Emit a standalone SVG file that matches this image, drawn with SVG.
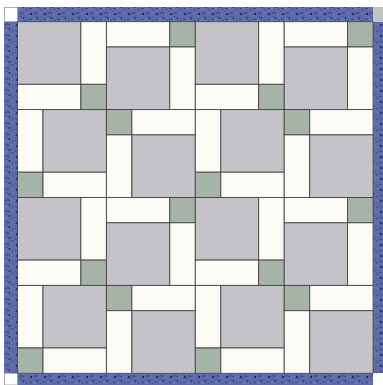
<svg xmlns="http://www.w3.org/2000/svg" width="383" height="385" viewBox="0 0 383 385">
<style>
.g{fill:#c5c2c8;stroke:#454545;stroke-width:0.9}
.c{fill:#fdfbf6;stroke:#454545;stroke-width:0.9}
.s{fill:#a5b4a7;stroke:#454545;stroke-width:0.9}
.b{fill:url(#fabric)}
</style>
<defs>
<pattern id="fabric" width="14" height="11" patternUnits="userSpaceOnUse">
<rect width="14" height="11" fill="#5d6ca8"/>
<circle cx="3" cy="3" r="1.2" fill="#232c63"/>
<circle cx="9.5" cy="7" r="1" fill="#29336f"/>
<path d="M5.5 2.5 q2 -1.6 4 0" stroke="#262f69" stroke-width="0.8" fill="none"/>
<path d="M1 8 q1.5 1.5 3 0" stroke="#262f69" stroke-width="0.7" fill="none"/>
<circle cx="12" cy="2" r="0.6" fill="#8e9ccc"/>
<circle cx="6" cy="9" r="0.7" fill="#8996c6"/>
<circle cx="12.5" cy="9.5" r="0.6" fill="#232c63"/>
<circle cx="7" cy="5.5" r="0.5" fill="#303a78"/>
</pattern>
</defs>
<rect width="383" height="385" fill="#ffffff"/>
<g id="border">
<rect class="b" x="17.5" y="7" width="355.6" height="14.7"/>
<rect class="b" x="4" y="21.7" width="13.5" height="351.6"/>
<rect class="b" x="373.1" y="21.7" width="9.9" height="351.6"/>
<rect class="b" x="17.5" y="373.3" width="355.6" height="11.7"/>
<rect x="4.4" y="7.4" width="13" height="14" fill="#ffffff" stroke="#9a9a9a" stroke-width="0.8"/>
<rect x="373.1" y="7" width="9.9" height="14.7" fill="#bcc5bf"/>
<rect x="4.4" y="373.3" width="13" height="11.7" fill="#ffffff" stroke="#9a9a9a" stroke-width="0.8"/>
<rect x="373.1" y="373.3" width="9.9" height="11.7" fill="#ffffff"/>
</g>
<g id="block-r1c1" transform="translate(17.5,21.7)"><rect class="g" width="63.4" height="62.6"/><rect class="c" x="63.4" width="25.5" height="62.6"/><rect class="c" y="62.6" width="63.4" height="25.3"/><rect class="s" x="63.4" y="62.6" width="25.5" height="25.3"/></g>
<g id="block-r1c2" transform="translate(106.4,21.7)"><rect class="c" width="63.4" height="25.3"/><rect class="s" x="63.4" width="25.5" height="25.3"/><rect class="g" y="25.3" width="63.4" height="62.6"/><rect class="c" x="63.4" y="25.3" width="25.5" height="62.6"/></g>
<g id="block-r1c3" transform="translate(195.3,21.7)"><rect class="g" width="63.4" height="62.6"/><rect class="c" x="63.4" width="25.5" height="62.6"/><rect class="c" y="62.6" width="63.4" height="25.3"/><rect class="s" x="63.4" y="62.6" width="25.5" height="25.3"/></g>
<g id="block-r1c4" transform="translate(284.2,21.7)"><rect class="c" width="63.4" height="25.3"/><rect class="s" x="63.4" width="25.5" height="25.3"/><rect class="g" y="25.3" width="63.4" height="62.6"/><rect class="c" x="63.4" y="25.3" width="25.5" height="62.6"/></g>
<g id="block-r2c1" transform="translate(17.5,109.6)"><rect class="c" width="25.5" height="62.6"/><rect class="g" x="25.5" width="63.4" height="62.6"/><rect class="s" y="62.6" width="25.5" height="25.3"/><rect class="c" x="25.5" y="62.6" width="63.4" height="25.3"/></g>
<g id="block-r2c2" transform="translate(106.4,109.6)"><rect class="s" width="25.5" height="25.3"/><rect class="c" x="25.5" width="63.4" height="25.3"/><rect class="c" y="25.3" width="25.5" height="62.6"/><rect class="g" x="25.5" y="25.3" width="63.4" height="62.6"/></g>
<g id="block-r2c3" transform="translate(195.3,109.6)"><rect class="c" width="25.5" height="62.6"/><rect class="g" x="25.5" width="63.4" height="62.6"/><rect class="s" y="62.6" width="25.5" height="25.3"/><rect class="c" x="25.5" y="62.6" width="63.4" height="25.3"/></g>
<g id="block-r2c4" transform="translate(284.2,109.6)"><rect class="s" width="25.5" height="25.3"/><rect class="c" x="25.5" width="63.4" height="25.3"/><rect class="c" y="25.3" width="25.5" height="62.6"/><rect class="g" x="25.5" y="25.3" width="63.4" height="62.6"/></g>
<g id="block-r3c1" transform="translate(17.5,197.5)"><rect class="g" width="63.4" height="62.6"/><rect class="c" x="63.4" width="25.5" height="62.6"/><rect class="c" y="62.6" width="63.4" height="25.3"/><rect class="s" x="63.4" y="62.6" width="25.5" height="25.3"/></g>
<g id="block-r3c2" transform="translate(106.4,197.5)"><rect class="c" width="63.4" height="25.3"/><rect class="s" x="63.4" width="25.5" height="25.3"/><rect class="g" y="25.3" width="63.4" height="62.6"/><rect class="c" x="63.4" y="25.3" width="25.5" height="62.6"/></g>
<g id="block-r3c3" transform="translate(195.3,197.5)"><rect class="g" width="63.4" height="62.6"/><rect class="c" x="63.4" width="25.5" height="62.6"/><rect class="c" y="62.6" width="63.4" height="25.3"/><rect class="s" x="63.4" y="62.6" width="25.5" height="25.3"/></g>
<g id="block-r3c4" transform="translate(284.2,197.5)"><rect class="c" width="63.4" height="25.3"/><rect class="s" x="63.4" width="25.5" height="25.3"/><rect class="g" y="25.3" width="63.4" height="62.6"/><rect class="c" x="63.4" y="25.3" width="25.5" height="62.6"/></g>
<g id="block-r4c1" transform="translate(17.5,285.4)"><rect class="c" width="25.5" height="62.6"/><rect class="g" x="25.5" width="63.4" height="62.6"/><rect class="s" y="62.6" width="25.5" height="25.3"/><rect class="c" x="25.5" y="62.6" width="63.4" height="25.3"/></g>
<g id="block-r4c2" transform="translate(106.4,285.4)"><rect class="s" width="25.5" height="25.3"/><rect class="c" x="25.5" width="63.4" height="25.3"/><rect class="c" y="25.3" width="25.5" height="62.6"/><rect class="g" x="25.5" y="25.3" width="63.4" height="62.6"/></g>
<g id="block-r4c3" transform="translate(195.3,285.4)"><rect class="c" width="25.5" height="62.6"/><rect class="g" x="25.5" width="63.4" height="62.6"/><rect class="s" y="62.6" width="25.5" height="25.3"/><rect class="c" x="25.5" y="62.6" width="63.4" height="25.3"/></g>
<g id="block-r4c4" transform="translate(284.2,285.4)"><rect class="s" width="25.5" height="25.3"/><rect class="c" x="25.5" width="63.4" height="25.3"/><rect class="c" y="25.3" width="25.5" height="62.6"/><rect class="g" x="25.5" y="25.3" width="63.4" height="62.6"/></g>
</svg>
